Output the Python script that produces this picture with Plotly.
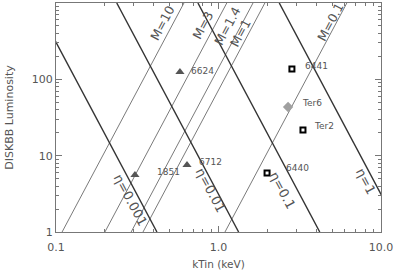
import numpy as np
import plotly.graph_objects as go

# Mass lines (L ∝ kT^4): kT (keV) where each line crosses L = 1
mass_labels = ["M=10", "M=3", "M=1.4", "M=1", "M=0.1"]
mass_kT_at_L1 = [0.109, 0.200, 0.290, 0.343, 1.096]
mass_label_kT = [0.455, 0.803, 1.144, 1.374, 4.92]
mass_label_L = [548, 501, 501, 406, 565]

# Eta lines (L ∝ kT^-4): kT (keV) where each line crosses L = 1
eta_labels = ["η=0.001", "η=0.01", "η=0.1", "η=1"]
eta_kT_at_L1 = [0.418, 1.33, 4.2, 13.3]
eta_label_kT = [0.285, 0.90, 2.49, 7.98]
eta_label_L = [2.63, 3.55, 3.55, 4.66]

# Sources
tri_names = ["6624", "1851", "6712"]
tri_kT = [0.579, 0.306, 0.640]
tri_L = [125, 5.6, 7.55]

sq_names = ["6441", "Ter2", "6440"]
sq_kT = [2.83, 3.31, 1.99]
sq_L = [137, 21.7, 5.93]

dia_names = ["Ter6"]
dia_kT = [2.68]
dia_L = [43.5]

fig = go.Figure()

FONT = "DejaVu Sans"
TXT = "#555555"

for kT0 in mass_kT_at_L1:
    T = np.array([kT0, kT0 * 1000 ** 0.25])
    L = (T / kT0) ** 4
    fig.add_trace(go.Scatter(x=T, y=L, mode="lines",
                             line=dict(color="#7a7a7a", width=1), hoverinfo="skip"))

for kT0 in eta_kT_at_L1:
    T = np.array([kT0 / 1000 ** 0.25, kT0])
    L = (kT0 / T) ** 4
    fig.add_trace(go.Scatter(x=T, y=L, mode="lines",
                             line=dict(color="#333333", width=1.4), hoverinfo="skip"))

fig.add_trace(go.Scatter(x=tri_kT, y=tri_L, mode="markers",
                         marker=dict(symbol="triangle-up", size=8, color="#555555"),
                         hoverinfo="skip"))
fig.add_trace(go.Scatter(x=sq_kT, y=sq_L, mode="markers",
                         marker=dict(symbol="square", size=5, color="white",
                                     line=dict(color="black", width=2)),
                         hoverinfo="skip"))
fig.add_trace(go.Scatter(x=dia_kT, y=dia_L, mode="markers",
                         marker=dict(symbol="diamond", size=8, color="#a0a0a0"),
                         hoverinfo="skip"))

ann = []
for t, x, y in zip(mass_labels, mass_label_kT, mass_label_L):
    ann.append(dict(x=np.log10(x), y=np.log10(y), text=t, showarrow=False, textangle=-62,
                    font=dict(family=FONT, size=12.5, color=TXT)))
for t, x, y in zip(eta_labels, eta_label_kT, eta_label_L):
    ann.append(dict(x=np.log10(x), y=np.log10(y), text=t, showarrow=False, textangle=62,
                    font=dict(family=FONT, size=13, color=TXT)))

# point labels: (xshift, yshift) offsets from the marker
shifts = {"6624": (9, 1), "1851": (20, 3), "6712": (10, 3), "6441": (11, 3),
          "Ter2": (9, 4), "6440": (17, 5), "Ter6": (12, 4)}
for names, xs, ys in [(tri_names, tri_kT, tri_L), (sq_names, sq_kT, sq_L),
                      (dia_names, dia_kT, dia_L)]:
    for n, x, y in zip(names, xs, ys):
        dx, dy = shifts[n]
        ann.append(dict(x=np.log10(x), y=np.log10(y), text=n, showarrow=False,
                        xanchor="left", yanchor="middle", xshift=dx, yshift=dy,
                        font=dict(family=FONT, size=9, color=TXT)))

axis_common = dict(type="log", showgrid=False, zeroline=False, showline=True,
                   linecolor="#777777", linewidth=1, mirror="ticks", ticks="inside",
                   ticklen=6, tickcolor="#777777", automargin=False,
                   tickfont=dict(family=FONT, size=11, color=TXT),
                   minor=dict(ticks="inside", ticklen=3, tickcolor="#777777",
                              dtick="D1", showgrid=False))

fig.update_layout(
    width=395, height=270,
    margin=dict(l=56, r=14, t=3, b=38),
    paper_bgcolor="white", plot_bgcolor="white",
    showlegend=False,
    annotations=ann,
    xaxis=dict(range=[-1, 1], tickvals=[0.1, 1, 10], ticktext=["0.1", "1.0", "10.0"],
               ticklabelstandoff=5,
               title=dict(text="kTin (keV)",
                          font=dict(family=FONT, size=10.5, color=TXT)),
               **axis_common),
    yaxis=dict(range=[0, 3], tickvals=[1, 10, 100, 1000], ticktext=["1", "10", "100", "1000"],
               title=dict(text="DISKBB Luminosity",
                          font=dict(family=FONT, size=11, color=TXT)),
               **axis_common),
)

fig.write_html("out.html", config={"displayModeBar": False},
               post_script="document.body.style.margin='0px';document.body.style.overflow='hidden';")
